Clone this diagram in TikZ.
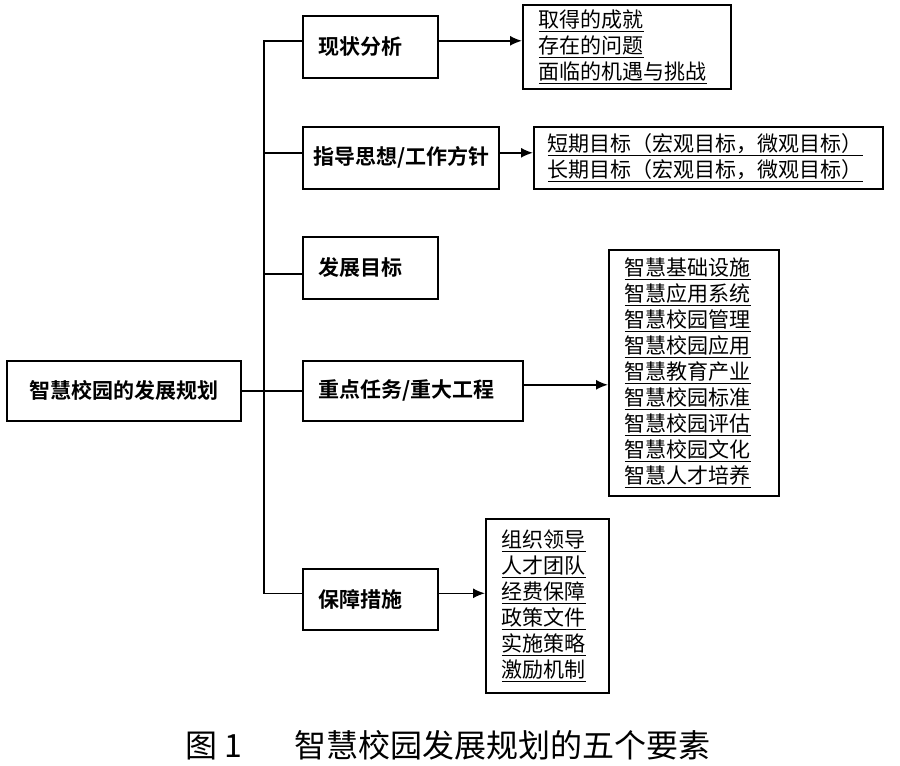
\documentclass[tikz,border=0pt]{standalone}
\usepackage{fontspec}
\setmainfont{Noto Sans CJK SC}[BoldFont={Noto Sans CJK SC Bold}]
\usetikzlibrary{arrows.meta, positioning}

\newcommand{\itemline}[1]{\underline{#1}}

\tikzset{
  stage/.style={draw, line width=1.6pt, anchor=north west, font=\fontsize{21}{26}\selectfont\bfseries, align=left, inner xsep=16pt, minimum height=62pt},
  items/.style={draw, line width=1.6pt, anchor=north west, font=\fontsize{21}{26}\selectfont, align=left, inner xsep=16pt, inner ysep=2pt},
  link/.style={line width=1.6pt},
  feed/.style={line width=1.6pt, -{Latex[length=12pt,width=10pt]}}
}

\begin{document}
\begin{tikzpicture}[x=1pt, y=-1pt]
\useasboundingbox (0,0) rectangle (900,766);

% root
\node[draw, line width=1.6pt, anchor=north west, font=\fontsize{21}{26}\selectfont\bfseries, minimum width=234pt, minimum height=60pt] (plan) at (6,360) {智慧校园的发展规划};

% five elements
\node[stage, text width=103pt] (status) at (302,15) {现状分析};
\node[stage, text width=174pt, inner xsep=11pt] (guide) at (302,126) {指导思想/工作方针};
\node[stage, text width=103pt] (goal) at (302,236) {发展目标};
\node[stage, text width=188pt, minimum height=60pt] (task) at (302,360) {重点任务/重大工程};
\node[stage, text width=103pt, minimum height=61pt] (safe) at (302,568) {保障措施};

% detail lists
\node[items, text width=176pt, minimum height=84pt] (status-list) at (522,4)
  {\itemline{取得的成就}\\ \itemline{存在的问题}\\ \itemline{面临的机遇与挑战}};
\node[items, text width=321pt, inner xsep=14pt, minimum height=62pt] (guide-list) at (533,126)
  {\itemline{短期目标（宏观目标，微观目标）}\\ \itemline{长期目标（宏观目标，微观目标）}};
\node[items, text width=138pt, minimum height=246pt] (task-list) at (608,249)
  {\itemline{智慧基础设施}\\ \itemline{智慧应用系统}\\ \itemline{智慧校园管理}\\
   \itemline{智慧校园应用}\\ \itemline{智慧教育产业}\\ \itemline{智慧校园标准}\\
   \itemline{智慧校园评估}\\ \itemline{智慧校园文化}\\ \itemline{智慧人才培养}};
\node[items, text width=91pt, minimum height=174pt] (safe-list) at (485,518)
  {\itemline{组织领导}\\ \itemline{人才团队}\\ \itemline{经费保障}\\
   \itemline{政策文件}\\ \itemline{实施策略}\\ \itemline{激励机制}};

% connectors
\draw[link] (plan) -- (task);
\draw[link] ([yshift=6pt]status.west) -- ++(-38,0) coordinate (trunktop) |- ([yshift=6pt]safe.west);
\draw[link] ([yshift=5pt]guide.west) -- ([yshift=5pt]guide.west -| trunktop);
\draw[link] ([yshift=-6pt]goal.west) -- ([yshift=-6pt]goal.west -| trunktop);
\foreach \s/\dy in {status/6, guide/5, task/6, safe/6}
  \draw[feed] ([yshift=\dy pt]\s.east) -- ([yshift=\dy pt]\s.east -| \s-list.west);

% caption
\node[font=\fontsize{32}{36}\selectfont] (caption) at (448,745) {图 1\hspace{52pt}智慧校园发展规划的五个要素};
\end{tikzpicture}
\end{document}
